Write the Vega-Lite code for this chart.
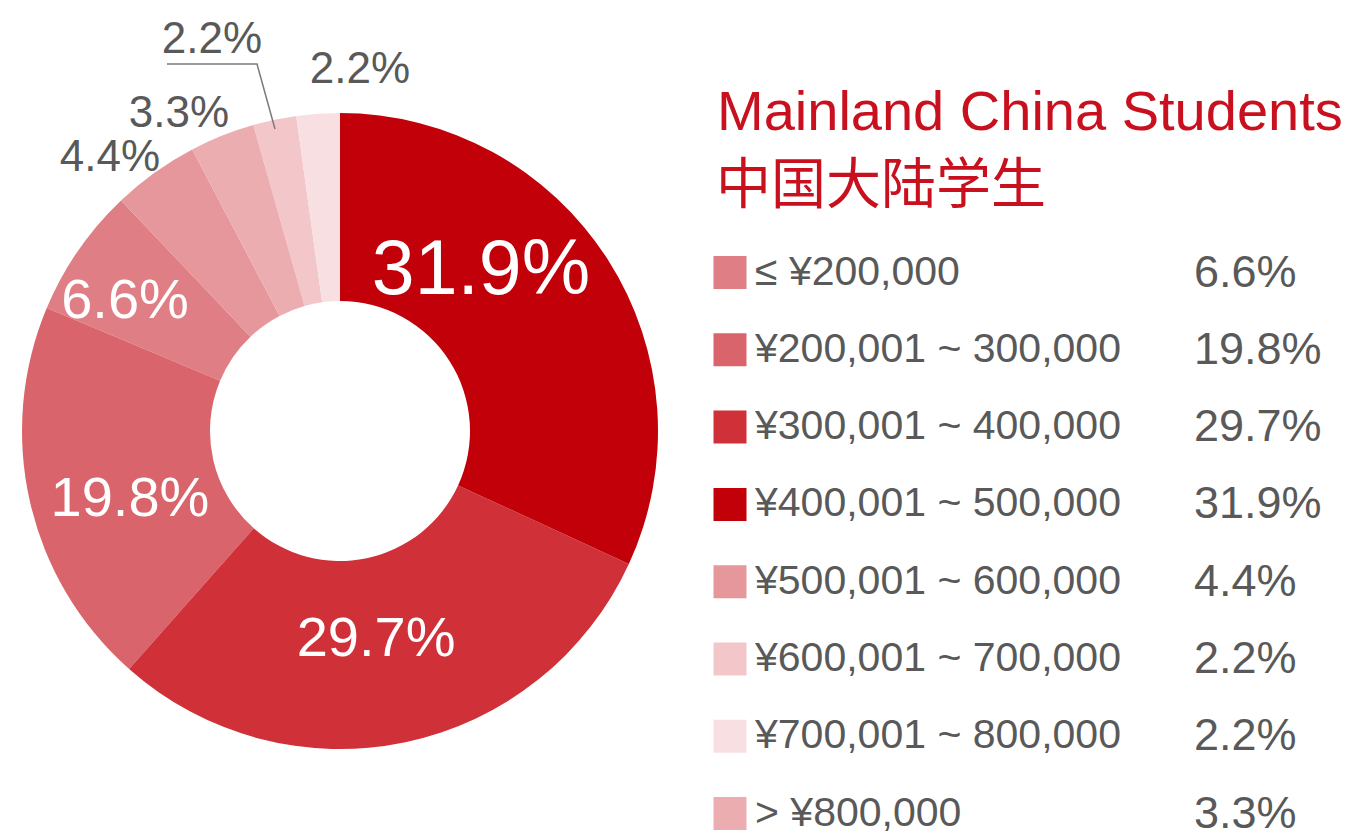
{
  "$schema": "https://vega.github.io/schema/vega-lite/v6.json",
  "background": "white",
  "padding": {"left": 0, "top": 17, "right": 0, "bottom": 0},
  "bounds": "flush",
  "spacing": 0,
  "config": {"view": {"stroke": null}, "text": {"font": "Liberation Sans"}},
  "datasets": {
    "cats": [
      {"cat": "≤ ¥200,000", "share": 6.6, "label": "6.6%", "ord": 4},
      {"cat": "¥200,001 ~ 300,000", "share": 19.8, "label": "19.8%", "ord": 3},
      {"cat": "¥300,001 ~ 400,000", "share": 29.7, "label": "29.7%", "ord": 2},
      {"cat": "¥400,001 ~ 500,000", "share": 31.9, "label": "31.9%", "ord": 1},
      {"cat": "¥500,001 ~ 600,000", "share": 4.4, "label": "4.4%", "ord": 5},
      {"cat": "¥600,001 ~ 700,000", "share": 2.2, "label": "2.2%", "ord": 7},
      {"cat": "¥700,001 ~ 800,000", "share": 2.2, "label": "2.2%", "ord": 8},
      {"cat": "> ¥800,000", "share": 3.3, "label": "3.3%", "ord": 6}
    ],
    "leader": [
      {"lx": -173, "ly": 367},
      {"lx": -83, "ly": 367},
      {"lx": -65, "ly": 302}
    ],
    "titles": [
      {"cat": "title1", "text": "Mainland China Students"},
      {"cat": "title2", "text": "中国大陆学生"}
    ]
  },
  "hconcat": [
    {
      "width": 680,
      "height": 806,
      "layer": [
        {
          "data": {"name": "cats"},
          "transform": [
            {"stack": "share", "groupby": [], "sort": [{"field": "ord", "order": "ascending"}], "as": ["t0", "t1"]}
          ],
          "layer": [
            {
              "mark": {"type": "arc", "outerRadius": 318, "innerRadius": 130},
              "encoding": {
                "theta": {"field": "t0", "type": "quantitative", "scale": {"domain": [0, 100.1]}},
                "theta2": {"field": "t1"},
                "color": {
                  "field": "cat",
                  "type": "nominal",
                  "legend": null,
                  "scale": {
                    "domain": ["≤ ¥200,000", "¥200,001 ~ 300,000", "¥300,001 ~ 400,000", "¥400,001 ~ 500,000", "¥500,001 ~ 600,000", "¥600,001 ~ 700,000", "¥700,001 ~ 800,000", "> ¥800,000"],
                    "range": ["#e07e85", "#d9646b", "#d03038", "#c10009", "#e6979c", "#f3c6ca", "#f8dfe1", "#ecadb1"]
                  }
                }
              }
            },
            {
              "transform": [{"filter": "datum.ord == 1"}],
              "mark": {"type": "text", "radius": 160, "dx": 141, "dy": 0, "fontSize": 77, "color": "white"},
              "encoding": {"theta": {"field": "t0", "type": "quantitative"}, "text": {"field": "label"}}
            },
            {
              "transform": [{"filter": "datum.ord == 2"}],
              "mark": {"type": "text", "radius": 119.7, "dx": -72.7, "dy": 157.9, "fontSize": 56, "color": "white"},
              "encoding": {"theta": {"field": "t0", "type": "quantitative"}, "text": {"field": "label"}}
            },
            {
              "transform": [{"filter": "datum.ord == 3"}],
              "mark": {"type": "text", "radius": 190.2, "dx": -83.9, "dy": -74.4, "fontSize": 56, "color": "white"},
              "encoding": {"theta": {"field": "t0", "type": "quantitative"}, "text": {"field": "label"}}
            },
            {
              "transform": [{"filter": "datum.ord == 4"}],
              "mark": {"type": "text", "radius": 248.6, "dx": 14.3, "dy": -33.9, "fontSize": 56, "color": "white"},
              "encoding": {"theta": {"field": "t0", "type": "quantitative"}, "text": {"field": "label"}}
            },
            {
              "transform": [{"filter": "datum.ord == 5"}],
              "mark": {"type": "text", "radius": 356.3, "dx": 15.3, "dy": -14.6, "fontSize": 44, "color": "#595959"},
              "encoding": {"theta": {"field": "t0", "type": "quantitative"}, "text": {"field": "label"}}
            },
            {
              "transform": [{"filter": "datum.ord == 6"}],
              "mark": {"type": "text", "radius": 355.5, "dx": 4.2, "dy": -2.2, "fontSize": 44, "color": "#595959"},
              "encoding": {"theta": {"field": "t0", "type": "quantitative"}, "text": {"field": "label"}}
            },
            {
              "transform": [{"filter": "datum.ord == 7"}],
              "mark": {"type": "text", "radius": 411.1, "dx": -15.9, "dy": 4.5, "fontSize": 44, "color": "#595959"},
              "encoding": {"theta": {"field": "t0", "type": "quantitative"}, "text": {"field": "label"}}
            },
            {
              "transform": [{"filter": "datum.ord == 8"}],
              "mark": {"type": "text", "radius": 354.8, "dx": 68.8, "dy": -9.6, "fontSize": 44, "color": "#595959"},
              "encoding": {"theta": {"field": "t0", "type": "quantitative"}, "text": {"field": "label"}}
            }
          ]
        },
        {
          "data": {"name": "leader"},
          "mark": {"type": "line", "color": "#7a7a7a", "strokeWidth": 1.5},
          "encoding": {
            "x": {"field": "lx", "type": "quantitative", "axis": null, "scale": {"domain": [-340, 340], "nice": false, "zero": false}},
            "y": {"field": "ly", "type": "quantitative", "axis": null, "scale": {"domain": [-403, 403], "nice": false, "zero": false}}
          }
        }
      ]
    },
    {
      "width": 665,
      "height": 806,
      "layer": [
        {
          "data": {"name": "cats"},
          "mark": {"type": "point", "shape": "square", "filled": true, "size": 1089, "opacity": 1},
          "encoding": {
            "x": {"datum": 50, "type": "quantitative", "axis": null, "scale": {"domain": [0, 665], "nice": false, "zero": false}},
            "y": {
              "field": "cat",
              "type": "nominal",
              "axis": null,
              "scale": {
                "type": "point",
                "padding": 0,
                "domain": ["title1", "title2", "≤ ¥200,000", "¥200,001 ~ 300,000", "¥300,001 ~ 400,000", "¥400,001 ~ 500,000", "¥500,001 ~ 600,000", "¥600,001 ~ 700,000", "¥700,001 ~ 800,000", "> ¥800,000"],
                "range": [89.9, 785.6]
              }
            },
            "color": {
              "field": "cat",
              "type": "nominal",
              "legend": null,
              "scale": {
                "domain": ["≤ ¥200,000", "¥200,001 ~ 300,000", "¥300,001 ~ 400,000", "¥400,001 ~ 500,000", "¥500,001 ~ 600,000", "¥600,001 ~ 700,000", "¥700,001 ~ 800,000", "> ¥800,000"],
                "range": ["#e07e85", "#d9646b", "#d03038", "#c10009", "#e6979c", "#f3c6ca", "#f8dfe1", "#ecadb1"]
              }
            }
          }
        },
        {
          "data": {"name": "cats"},
          "mark": {"type": "text", "align": "left", "fontSize": 41, "color": "#595959"},
          "encoding": {
            "x": {"datum": 75, "type": "quantitative"},
            "y": {"field": "cat", "type": "nominal"},
            "text": {"field": "cat"}
          }
        },
        {
          "data": {"name": "cats"},
          "mark": {"type": "text", "align": "left", "fontSize": 45, "color": "#595959"},
          "encoding": {
            "x": {"datum": 514, "type": "quantitative"},
            "y": {"field": "cat", "type": "nominal"},
            "text": {"field": "label"}
          }
        },
        {
          "data": {"name": "titles"},
          "transform": [{"filter": "datum.cat == 'title1'"}],
          "mark": {"type": "text", "align": "left", "fontSize": 56, "color": "#c8101e", "dy": -5},
          "encoding": {
            "x": {"datum": 37, "type": "quantitative"},
            "y": {"field": "cat", "type": "nominal"},
            "text": {"field": "text"}
          }
        },
        {
          "data": {"name": "titles"},
          "transform": [{"filter": "datum.cat == 'title2'"}],
          "mark": {"type": "text", "align": "left", "fontSize": 55, "color": "#c8101e", "dy": -9, "font": "Noto Sans CJK SC"},
          "encoding": {
            "x": {"datum": 36, "type": "quantitative"},
            "y": {"field": "cat", "type": "nominal"},
            "text": {"field": "text"}
          }
        }
      ]
    }
  ]
}
